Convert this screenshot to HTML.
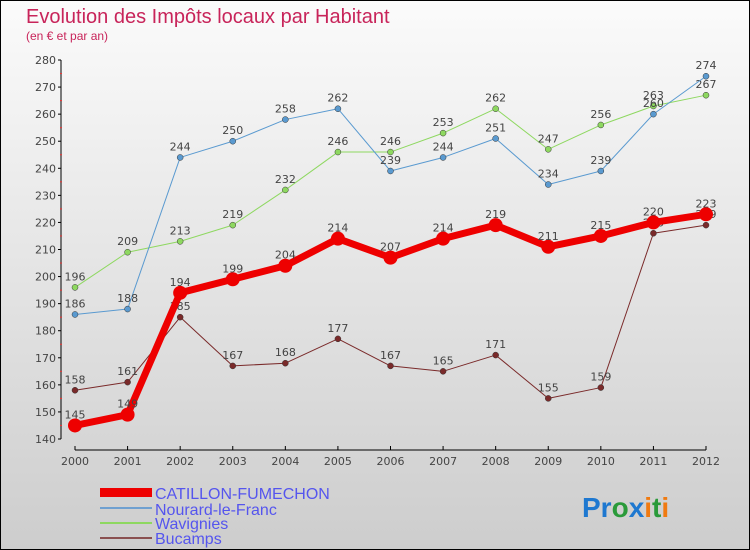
<!DOCTYPE html>
<html><head><meta charset="utf-8"><style>
body{margin:0}
svg{display:block;font-family:"DejaVu Sans","Liberation Sans",sans-serif}
</style></head><body>
<svg width="750" height="550">
<defs><linearGradient id="bg" x1="0" y1="0" x2="0" y2="1"><stop offset="0" stop-color="#fbfbfb"/><stop offset="1" stop-color="#cdcdcd"/></linearGradient></defs>
<rect x="0.5" y="0.5" width="749" height="549" fill="url(#bg)" stroke="#000"/>
<text x="26" y="23" font-size="20" fill="#c8245a" font-family="'Liberation Sans',sans-serif">Evolution des Impôts locaux par Habitant</text>
<text x="26" y="40" font-size="12" fill="#c8245a" font-family="'Liberation Sans',sans-serif">(en € et par an)</text>
<g id="axes"></g>
<g id="series"></g>
<g font-family="'Liberation Sans',sans-serif">
<rect x="100" y="488" width="52" height="9" fill="#e00"/>
<text x="155" y="499" font-size="16" fill="#5555ee">CATILLON-FUMECHON</text>
<line x1="100" y1="508" x2="152" y2="508" stroke="#6fa0d0" stroke-width="2"/>
<text x="155" y="515" font-size="16" fill="#5555ee">Nourard-le-Franc</text>
<line x1="100" y1="523" x2="152" y2="523" stroke="#8ed860" stroke-width="2"/>
<text x="155" y="529" font-size="16" fill="#5555ee">Wavignies</text>
<line x1="100" y1="538" x2="152" y2="538" stroke="#8a5050" stroke-width="2"/>
<text x="155" y="544" font-size="16" fill="#5555ee">Bucamps</text>
</g>
<g font-size="28" font-weight="bold" font-family="'Liberation Sans',sans-serif">
<text x="582" y="517"><tspan fill="#1e78d0">Pr</tspan><tspan fill="#2a9a3a">o</tspan><tspan fill="#1e78d0">x</tspan><tspan fill="#f07a10">i</tspan><tspan fill="#2a9a3a">t</tspan><tspan fill="#f07a10">i</tspan></text>
</g>
</svg>
<script>
const years=[2000,2001,2002,2003,2004,2005,2006,2007,2008,2009,2010,2011,2012];
const catillon=[145,149,194,199,204,214,207,214,219,211,215,220,223];
const nourard=[186,188,244,250,258,262,239,244,251,234,239,260,274];
const wavignies=[196,209,213,219,232,246,246,253,262,247,256,263,267];
const bucamps=[158,161,185,167,168,177,167,165,171,155,159,216,219];
const yTicks=[140,150,160,170,180,190,200,210,220,230,240,250,260,270,280];
const NS="http://www.w3.org/2000/svg";
function X(i){return 75+i*(706-75)/12;}
function Y(v){return 439-(v-140)*(439-60)/140;}
function mk(t,a,p){const e=document.createElementNS(NS,t);for(const k in a)e.setAttribute(k,a[k]);p.appendChild(e);return e;}
const ax=document.getElementById('axes');
const yl=mk('line',{x1:61,y1:Y(280),x2:61,y2:Y(140),stroke:'#000'},ax);


yTicks.forEach(v=>{
 mk('line',{x1:58,x2:61,y1:Y(v),y2:Y(v),stroke:'#000'},ax);
 const t=mk('text',{x:56,y:Y(v)+4,'font-size':11,fill:'#444','text-anchor':'end'},ax);t.textContent=v;
 
 
 if(v<280) mk('line',{x1:60,x2:62,y1:Y(v+5),y2:Y(v+5),stroke:'#e33'},ax);
});
const xl=mk('line',{x1:X(0),y1:450,x2:X(12),y2:450,stroke:'#000'},ax);


years.forEach((y,i)=>{
 mk('line',{x1:X(i),x2:X(i),y1:446,y2:450,stroke:'#000'},ax);
 const t=mk('text',{x:X(i),y:465,'font-size':11,fill:'#444','text-anchor':'middle'},ax);t.textContent=y;
 
 
});
const sg=document.getElementById('series');
function series(data,color,w,r,name){
 const g=mk('g',{},sg);
 
 
 const pl=mk('polyline',{points:data.map((v,i)=>X(i)+','+Y(v)).join(' '),fill:'none',stroke:color,'stroke-width':w,'stroke-linejoin':'round'},g);
 
 
 data.forEach((v,i)=>{
  const c=mk('circle',{cx:X(i),cy:Y(v),r:r,fill:color,stroke:r>4?'none':'#333','stroke-width':0.5},g);
  
  
  const t=mk('text',{x:X(i),y:Y(v)-7,'font-size':11,fill:'#444','text-anchor':'middle'},g);t.textContent=v;
  
  
 });
}
series(bucamps,'#7a2a2a',1,3,'bucamps');
series(wavignies,'#8ed860',1,3,'wavignies');
series(nourard,'#5a9ad0',1,3,'nourard');
series(catillon,'#ee0000',7,7,'catillon');
</script>
</body></html>
